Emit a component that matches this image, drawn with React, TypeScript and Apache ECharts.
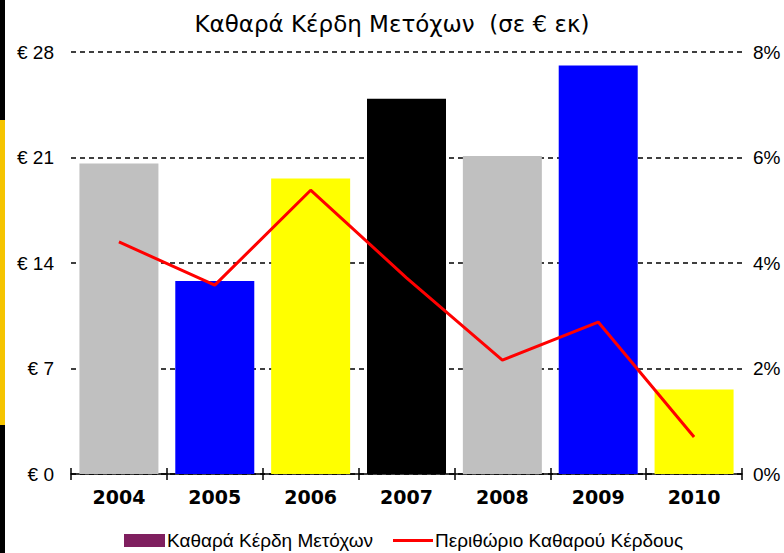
import React, { useEffect, useRef } from "react";
import * as echarts from "echarts";

const years = ["2004", "2005", "2006", "2007", "2008", "2009", "2010"];
const profits = [20.6, 12.8, 19.6, 24.9, 21.1, 27.1, 5.6];
const barColors = ["#c0c0c0", "#0000ff", "#ffff00", "#000000", "#c0c0c0", "#0000ff", "#ffff00"];
const margins = [4.4, 3.58, 5.38, 3.72, 2.16, 2.88, 0.7];
const titleText = "Καθαρά Κέρδη Μετόχων  (σε € εκ)";
const barName = "Καθαρά Κέρδη Μετόχων";
const lineName = "Περιθώριο Καθαρού Κέρδους";

const FONT = "Liberation Sans";
const WIDE = "DejaVu Sans";

export default function App() {
  const ref = useRef<HTMLDivElement>(null);
  useEffect(() => {
    if (!ref.current) return;
    const chart = echarts.init(ref.current, null, { renderer: "svg" });
    chart.setOption({
      animation: false,
      backgroundColor: "#ffffff",
      title: {
        text: titleText,
        left: "center",
        top: 7,
        textStyle: { fontFamily: WIDE, fontSize: 23, fontWeight: "normal", color: "#000" },
      },
      graphic: [
        { type: "rect", shape: { x: 0, y: 0, width: 5, height: 553 }, style: { fill: "#000" } },
        { type: "rect", shape: { x: 0, y: 120, width: 5, height: 305 }, style: { fill: "#f5c400" } },
      ],
      legend: [
        {
          data: [{ name: barName, icon: "rect" }],
          left: 124,
          top: 531,
          itemWidth: 41,
          itemHeight: 13,
          itemGap: 4,
          textStyle: { fontFamily: FONT, fontSize: 19, color: "#000", padding: [0, 0, 0, -3] },
          padding: 0,
        },
        {
          data: [{ name: lineName, icon: "rect" }],
          left: 393,
          top: 531,
          itemWidth: 40,
          itemHeight: 3,
          textStyle: { fontFamily: FONT, fontSize: 19, color: "#000", padding: [0, 0, 0, -3] },
          padding: 0,
        },
      ],
      grid: { left: 71, right: 42, top: 52, bottom: 79, containLabel: false },
      xAxis: [
        {
          type: "category",
          data: years,
          position: "bottom",
          axisLine: { show: true, lineStyle: { color: "#000", width: 1.5 } },
          axisTick: { show: true, length: 6, lineStyle: { color: "#000", width: 1.5 } },
          axisLabel: { fontFamily: WIDE, fontSize: 19, fontWeight: "bold", color: "#000", margin: 13 },
        },
        {
          type: "category",
          data: years,
          position: "bottom",
          offset: 0,
          axisLine: { show: false },
          axisTick: { show: true, inside: true, length: 6, lineStyle: { color: "#000", width: 1.5 } },
          axisLabel: { show: false },
        },
      ],
      yAxis: [
        {
          type: "value",
          min: 0,
          max: 28,
          interval: 7,
          axisLine: { show: false },
          axisTick: { show: false },
          axisLabel: { formatter: "€ {value}", fontFamily: FONT, fontSize: 19, color: "#000", margin: 17 },
          splitLine: { show: true, lineStyle: { color: "#000", type: [5, 4], width: 1.5 } },
        },
        {
          type: "value",
          min: 0,
          max: 8,
          interval: 2,
          position: "right",
          axisLine: { show: false },
          axisTick: { show: false },
          axisLabel: { formatter: "{value}%", fontFamily: FONT, fontSize: 19, color: "#000", margin: 11 },
          splitLine: { show: false },
        },
      ],
      series: [
        {
          name: barName,
          type: "bar",
          xAxisIndex: 0,
          yAxisIndex: 0,
          barWidth: 79,
          itemStyle: { color: "#7f1f5f" },
          data: profits.map((v, i) => ({ value: v, itemStyle: { color: barColors[i] } })),
        },
        {
          name: lineName,
          type: "line",
          xAxisIndex: 0,
          yAxisIndex: 1,
          symbol: "none",
          lineStyle: { color: "#ff0000", width: 3 },
          itemStyle: { color: "#ff0000" },
          data: margins,
          z: 5,
        },
      ],
    });
    return () => chart.dispose();
  }, []);
  return (
    <div
      ref={ref}
      style={{ position: "fixed", left: 0, top: 0, width: 784, height: 553, background: "#fff" }}
    />
  );
}
